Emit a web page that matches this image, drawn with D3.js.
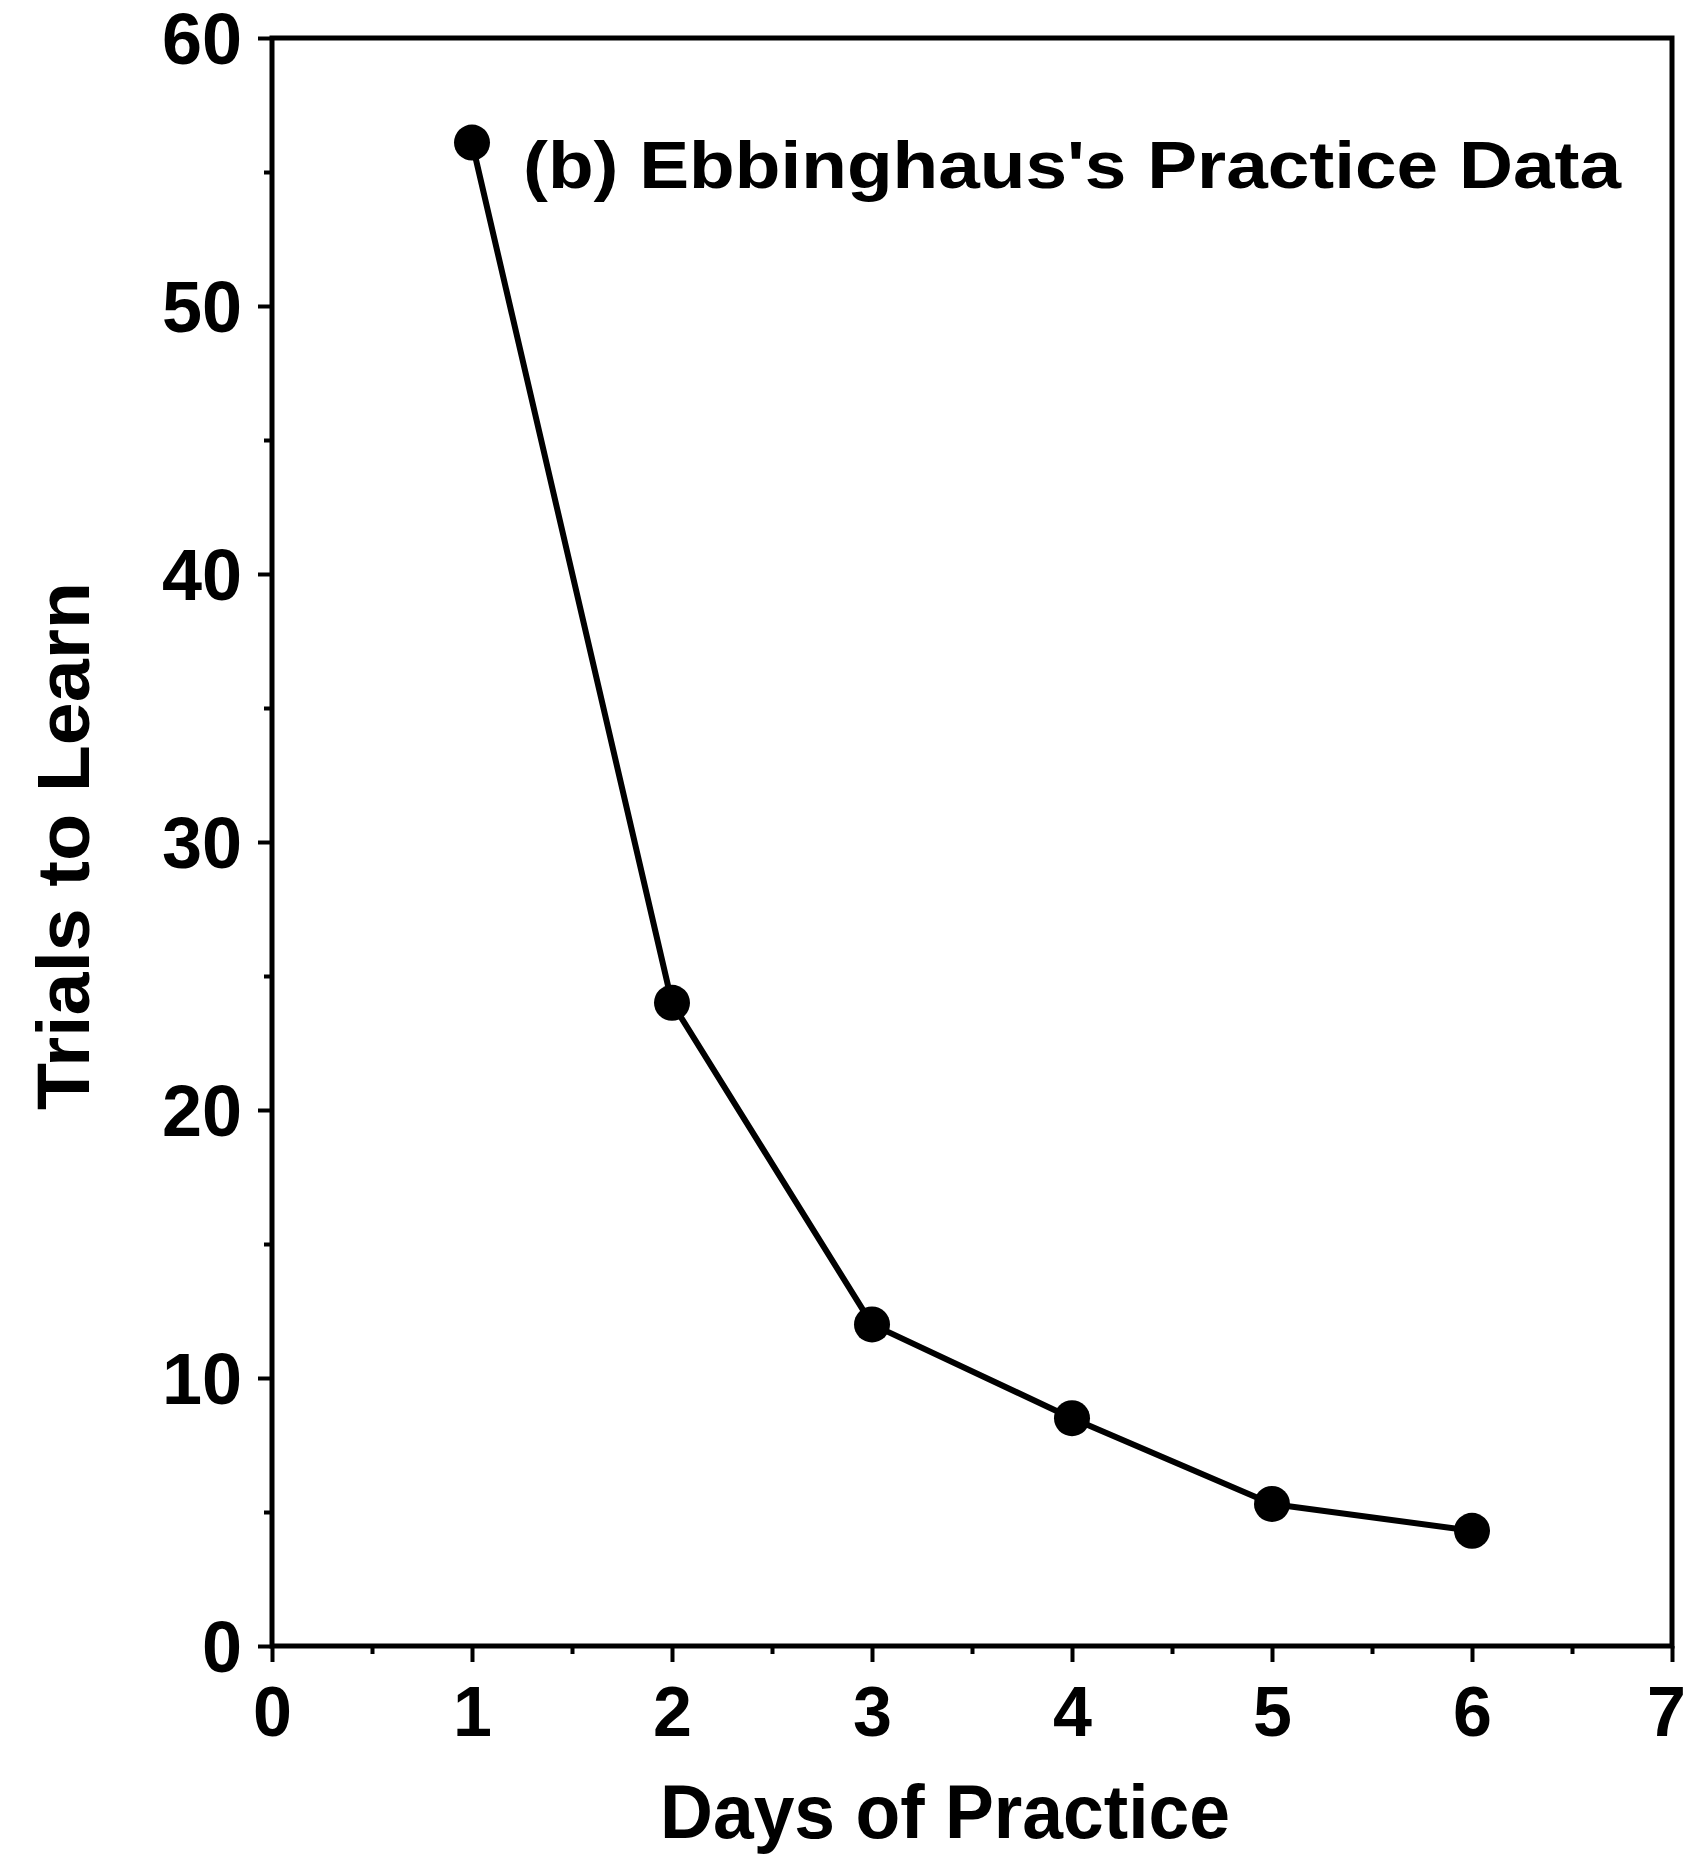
<!DOCTYPE html>
<html>
<head>
<meta charset="utf-8">
<script src="https://cdn.jsdelivr.net/npm/d3@7"></script>
<style>
  body { margin: 0; background: #fff; }
  svg text { font-family: "Liberation Sans", Arial, Helvetica, sans-serif; font-weight: bold; fill: #000; }
</style>
</head>
<body>
<div id="chart"></div>
<script>
// data
var days = [1, 2, 3, 4, 5, 6];
var trials = [56.1, 24.0, 12.0, 8.5, 5.3, 4.3];
var xTicks = [0, 1, 2, 3, 4, 5, 6, 7];
var yTicks = [0, 10, 20, 30, 40, 50, 60];
var title = "(b) Ebbinghaus's Practice Data";
var xLabel = "Days of Practice";
var yLabel = "Trials to Learn";

var W = 1691, H = 1862;
var margin = {top: 38, right: 19, bottom: 216, left: 272};
var width = W - margin.left - margin.right;
var height = H - margin.top - margin.bottom;

var svg = d3.select("#chart").append("svg")
    .attr("width", W)
    .attr("height", H);

var g = svg.append("g")
    .attr("transform", "translate(" + margin.left + "," + margin.top + ")");

var x = d3.scaleLinear().domain([0, 7]).range([0, width]);
var y = d3.scaleLinear().domain([0, 60]).range([height, 0]);

// frame
g.append("rect")
    .attr("x", 0).attr("y", 0)
    .attr("width", width).attr("height", height)
    .style("fill", "none")
    .style("stroke", "#000")
    .style("stroke-width", 5);

// minor ticks
g.append("g")
    .attr("transform", "translate(0," + height + ")")
    .call(d3.axisBottom(x).tickValues(d3.range(0.5, 7, 1)).tickSize(8).tickFormat(""))
    .call(a => a.select(".domain").remove());
g.append("g")
    .call(d3.axisLeft(y).tickValues(d3.range(5, 60, 10)).tickSize(8).tickFormat(""))
    .call(a => a.select(".domain").remove());

// major axes
var xAxis = g.append("g")
    .attr("transform", "translate(0," + height + ")")
    .call(d3.axisBottom(x).tickValues(xTicks).tickFormat(d3.format("d")).tickSize(16).tickPadding(24))
    .call(a => a.select(".domain").remove());
xAxis.selectAll("text").style("font-size", "70px").attr("dy", "0.71em")
    .attr("dx", d => d === 7 ? -6 : 0);

var yAxis = g.append("g")
    .call(d3.axisLeft(y).tickValues(yTicks).tickFormat(d3.format("d")).tickSize(14).tickPadding(16))
    .call(a => a.select(".domain").remove());
yAxis.selectAll("text").style("font-size", "72px").attr("dy", "0.36em");

g.selectAll(".tick line").style("stroke", "#000").style("stroke-width", 4);

// line + markers
var line = d3.line()
    .x((d, i) => x(days[i]))
    .y(d => y(d));

g.append("path")
    .datum(trials)
    .attr("d", line)
    .style("fill", "none")
    .style("stroke", "#000")
    .style("stroke-width", 6)
    .style("stroke-linejoin", "round");

g.selectAll(".dot")
    .data(trials)
  .enter().append("circle")
    .attr("class", "dot")
    .attr("cx", (d, i) => x(days[i]))
    .attr("cy", d => y(d))
    .attr("r", 18)
    .style("fill", "#000");

// title inside plot
svg.append("text")
    .attr("x", 523)
    .attr("y", 188)
    .attr("textLength", 1098)
    .attr("lengthAdjust", "spacingAndGlyphs")
    .style("font-size", "66px")
    .text(title);

// axis titles
svg.append("text")
    .attr("x", 945)
    .attr("y", 1838)
    .attr("text-anchor", "middle")
    .attr("textLength", 570)
    .attr("lengthAdjust", "spacingAndGlyphs")
    .style("font-size", "76px")
    .text(xLabel);

svg.append("text")
    .attr("transform", "translate(89,846) rotate(-90)")
    .attr("text-anchor", "middle")
    .attr("textLength", 528)
    .attr("lengthAdjust", "spacingAndGlyphs")
    .style("font-size", "74px")
    .text(yLabel);
</script>
</body>
</html>
